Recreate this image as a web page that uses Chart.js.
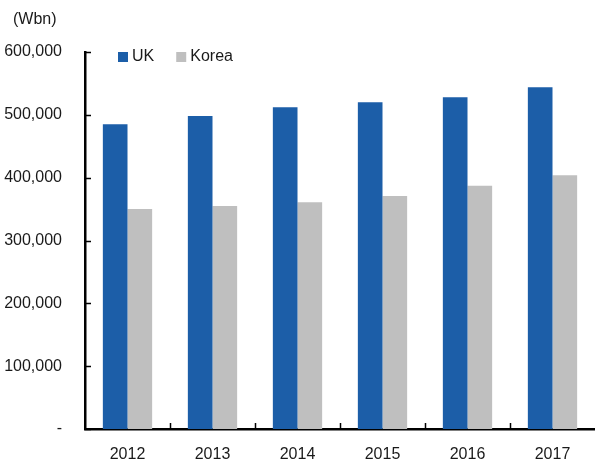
<!DOCTYPE html>
<html>
<head>
<meta charset="utf-8">
<script src="https://cdn.jsdelivr.net/npm/chart.js@4/dist/chart.umd.min.js"></script>
<style>
  html, body { margin: 0; padding: 0; background: #fff; }
  #wrap { width: 595px; height: 464px; }
</style>
</head>
<body>
<div id="wrap"><canvas id="chart" width="595" height="464"></canvas></div>
<script>
const years = ['2012', '2013', '2014', '2015', '2016', '2017'];
const ukValues = [485000, 498000, 512000, 520000, 528000, 544000];
const koreaValues = [350000, 355000, 361000, 371000, 387000, 404000];
const seriesNames = ['UK', 'Korea'];
const seriesColors = ['#1c5ea8', '#bfbfbf'];
const unitLabel = '(Wbn)';

const FONT = "'Liberation Sans Narrow', 'Arial Narrow', 'Liberation Sans', Arial, sans-serif";
const FONT_SIZE = 16;
const TEXT = '#1a1a1a';

// short tick marks pointing into the plot, plus the unit label and the legend
const decorations = {
  id: 'decorations',
  afterDraw(chart) {
    const c = chart.ctx;
    const x = chart.scales.x;
    const y = chart.scales.y;
    c.save();
    c.strokeStyle = '#000';
    c.lineWidth = 1.5;
    c.beginPath();
    y.ticks.forEach((t, i) => {
      const py = Math.round(y.getPixelForTick(i)) + 0.5;
      c.moveTo(y.right, py);
      c.lineTo(y.right + 6, py);
    });
    const half = (x.getPixelForTick(1) - x.getPixelForTick(0)) / 2;
    for (let i = 1; i < years.length; i++) {
      const px = Math.round(x.getPixelForTick(i) - half) + 0.5;
      c.moveTo(px, x.top);
      c.lineTo(px, x.top - 6);
    }
    c.stroke();

    c.fillStyle = TEXT;
    c.font = FONT_SIZE + 'px ' + FONT;
    c.textBaseline = 'middle';
    c.textAlign = 'left';
    c.fillText(unitLabel, 13, 20);

    let lx = 118;
    const ly = 57;
    chart.data.datasets.forEach(ds => {
      c.fillStyle = ds.backgroundColor;
      c.fillRect(lx, ly - 5, 10, 10);
      c.fillStyle = TEXT;
      c.fillText(ds.label, lx + 14, ly);
      lx += 14 + c.measureText(ds.label).width + 22;
    });
    c.restore();
  }
};

new Chart(document.getElementById('chart'), {
  type: 'bar',
  data: {
    labels: years,
    datasets: [
      { label: seriesNames[0], data: ukValues, backgroundColor: seriesColors[0] },
      { label: seriesNames[1], data: koreaValues, backgroundColor: seriesColors[1] }
    ]
  },
  options: {
    responsive: false,
    animation: false,
    layout: { padding: { top: 52, right: 0, left: 0, bottom: 0 } },
    datasets: { bar: { categoryPercentage: 0.58, barPercentage: 1 } },
    plugins: { legend: { display: false }, tooltip: { enabled: false } },
    scales: {
      x: {
        grid: { display: false, drawTicks: false },
        border: { color: '#000', width: 2.5 },
        ticks: { color: TEXT, font: { family: FONT, size: FONT_SIZE }, padding: 16 },
        afterFit: s => { s.height = 35; }
      },
      y: {
        min: 0,
        max: 600000,
        grid: { display: false, drawTicks: false },
        border: { color: '#000', width: 2.5 },
        ticks: {
          stepSize: 100000,
          color: TEXT,
          padding: 23,
          font: { family: FONT, size: FONT_SIZE },
          callback: v => v === 0 ? '-' : v.toLocaleString('en-US')
        },
        afterFit: s => { s.width = 85; }
      }
    }
  },
  plugins: [decorations]
});
</script>
</body>
</html>
